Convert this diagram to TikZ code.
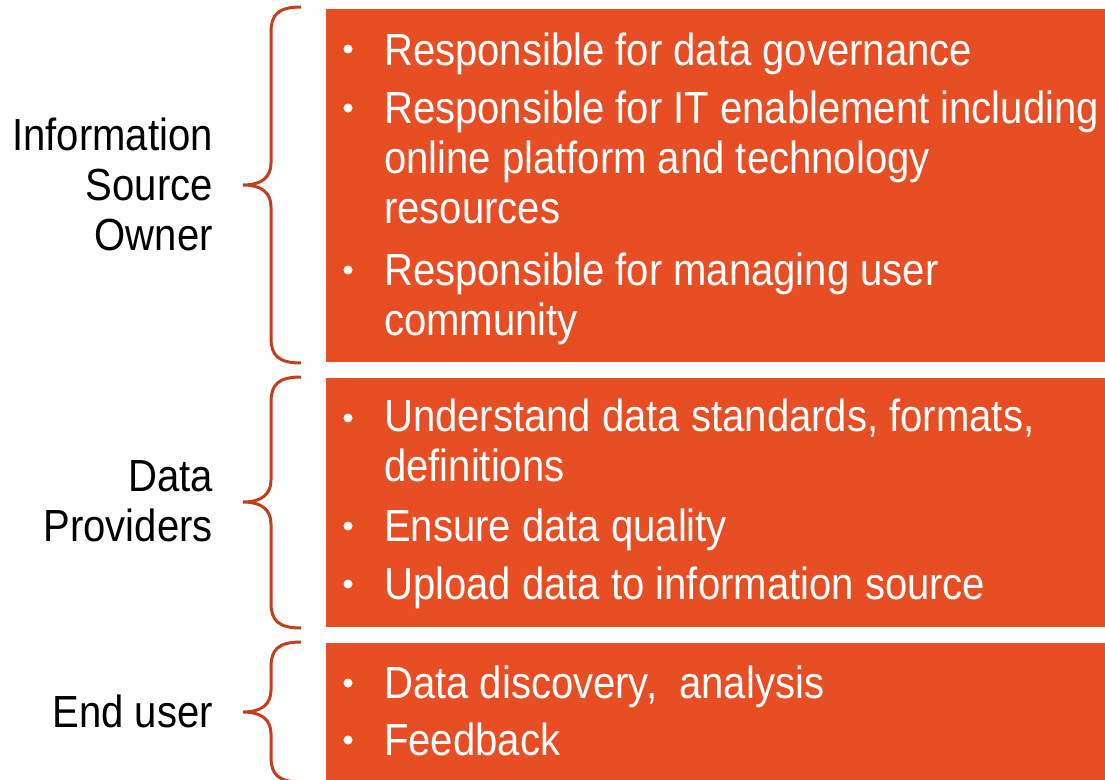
\documentclass[tikz,border=0pt]{standalone}
\usepackage{fontspec}
\setmainfont{Liberation Sans}[FakeStretch=0.89]
\usetikzlibrary{positioning}

\definecolor{boxorange}{RGB}{232,78,36}
\definecolor{bracered}{RGB}{192,64,30}

\tikzset{
  rolebox/.style={fill=boxorange, anchor=north west, inner sep=0pt, minimum width=779pt},
  rolename/.style={anchor=base east, align=right, inner sep=0pt, font=\fontsize{45}{50}\selectfont},
  itemtext/.style={anchor=base west, align=left, inner sep=0pt, text=white, font=\fontsize{45}{50}\selectfont},
  itemdot/.style={circle, fill=white, inner sep=0pt, minimum size=9pt},
  bracestyle/.style={draw=bracered, line width=3pt},
}

% brace: top y, tip y, bottom y
\newcommand\rolebrace[3]{%
  \draw[bracestyle] (301,#1) .. controls (278,#1) and (271,#1+8) .. (271,#1+25)
    -- (271,#2-22) .. controls (271,#2-8) and (262,#2) .. (243,#2)
    .. controls (262,#2) and (271,#2+8) .. (271,#2+22)
    -- (271,#3-25) .. controls (271,#3-8) and (278,#3) .. (301,#3);}

\begin{document}
\begin{tikzpicture}[x=1pt, y=-1pt]
        \useasboundingbox (0,0) rectangle (1105,779);

        % boxes
        \node[rolebox, minimum height=353pt] (sourcebox) at (326,9) {};
        \node[rolebox, minimum height=249pt] (providerbox) at (326,378) {};
        \node[rolebox, minimum height=140pt] (userbox) at (326,643) {};

        % roles (placed at the baseline of the last line)
        \node[rolename] (owner) at (213,250) {Information\\Source\\Owner};
        \node[rolename] (providers) at (213,541) {Data\\Providers};
        \node[rolename] (enduser) at (213,727) {End user};

        % braces
        \rolebrace{7}{185}{363}
        \rolebrace{377}{502}{628}
        \rolebrace{642}{712}{782}

        % owner items
        \node[itemdot] (d1) at (348,49) {};
        \node[itemtext] (t1) at (384,65) {Responsible for data governance};
        \node[itemdot] (d2) at (348,108) {};
        \node[itemtext] (t2) at (384,223) {Responsible for IT enablement including\\online platform and technology\\resources};
        \node[itemdot] (d3) at (348,270) {};
        \node[itemtext] (t3) at (384,335) {Responsible for managing user\\community};

        % provider items
        \node[itemdot] (d4) at (348,418) {};
        \node[itemtext] (t4) at (384,481) {Understand data standards, formats,\\definitions};
        \node[itemdot] (d5) at (348,526) {};
        \node[itemtext] (t5) at (384,541) {Ensure data quality};
        \node[itemdot] (d6) at (348,584) {};
        \node[itemtext] (t6) at (384,599) {Upload data to information source};

        % user items
        \node[itemdot] (d7) at (348,683) {};
        \node[itemtext] (t7) at (384,698) {Data discovery,~ analysis};
        \node[itemdot] (d8) at (348,740) {};
        \node[itemtext] (t8) at (384,755) {Feedback};

    \end{tikzpicture}
\end{document}
